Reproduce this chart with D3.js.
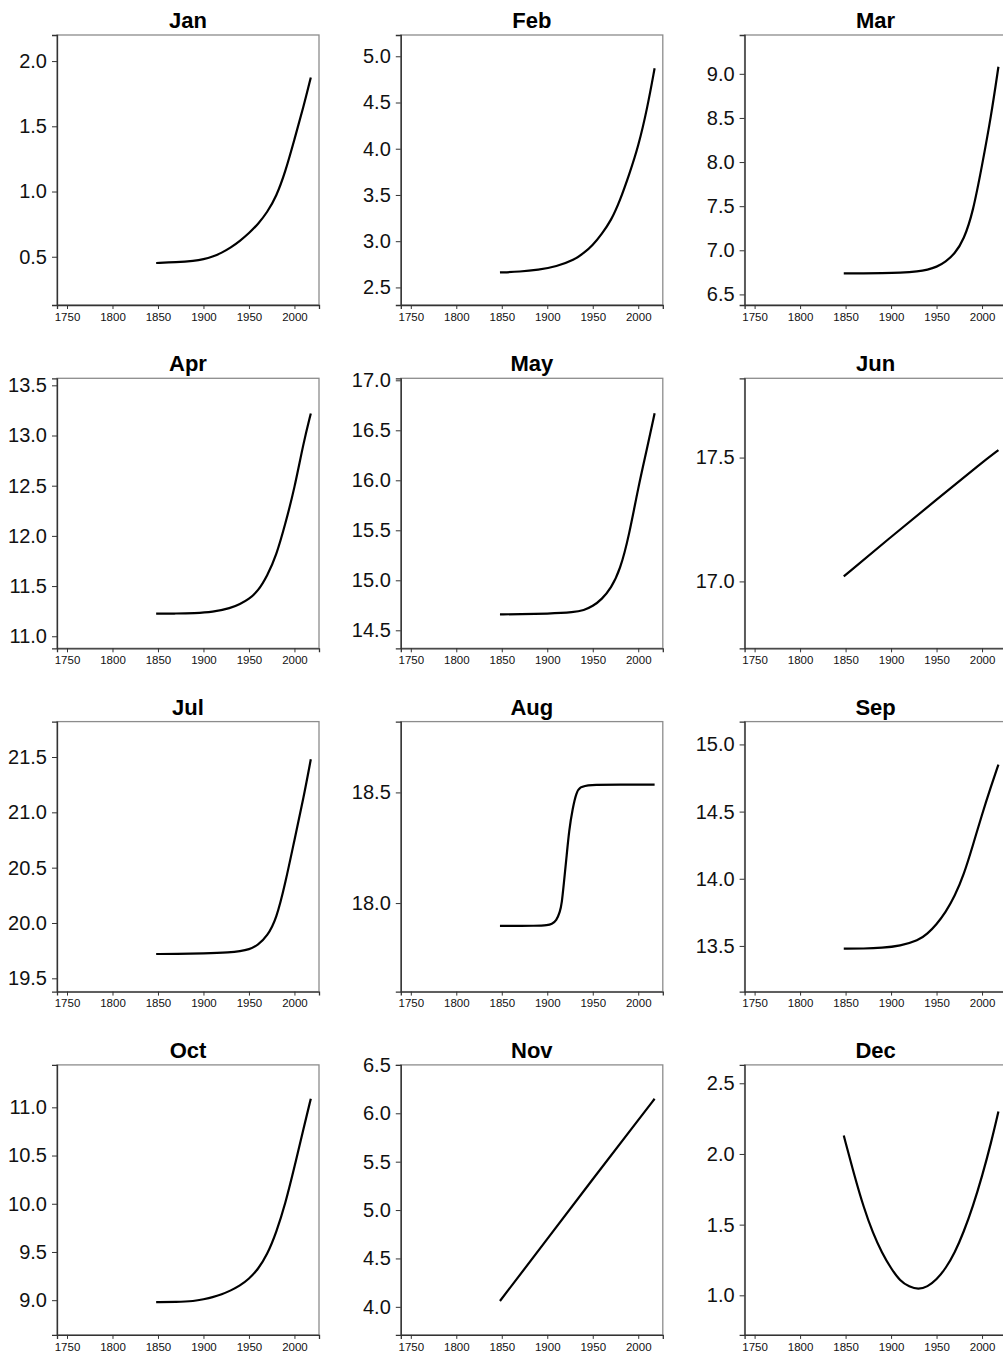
<!DOCTYPE html>
<html>
<head>
<meta charset="utf-8">
<script src="https://cdn.jsdelivr.net/npm/d3@7"></script>
<style>
  body { margin: 0; background: #fff; }
  svg { display: block; font-family: "Liberation Sans", Arial, Helvetica, sans-serif; }
</style>
</head>
<body>
<div id="chart"></div>
<script>
const months = ['Jan', 'Feb', 'Mar', 'Apr', 'May', 'Jun', 'Jul', 'Aug', 'Sep', 'Oct', 'Nov', 'Dec'];
const xDomain = [1739, 2027];
const xTicks = [1750, 1800, 1850, 1900, 1950, 2000];

// [year, value]
const jan = [[1848, 0.452], [1870, 0.457], [1890, 0.468], [1900, 0.48], [1910, 0.50], [1920, 0.53],
  [1930, 0.57], [1940, 0.62], [1950, 0.68], [1960, 0.75], [1970, 0.84], [1980, 0.96], [1990, 1.15],
  [2000, 1.40], [2010, 1.65], [2018, 1.875]];
const feb = [[1848, 2.662], [1870, 2.67], [1890, 2.69], [1910, 2.725], [1930, 2.80], [1940, 2.87],
  [1950, 2.955], [1960, 3.08], [1970, 3.22], [1980, 3.44], [1990, 3.72], [2000, 4.02], [2010, 4.44], [2018, 4.87]];
const mar = [[1848, 6.738], [1870, 6.738], [1890, 6.74], [1910, 6.745], [1930, 6.76], [1940, 6.78],
  [1950, 6.81], [1960, 6.87], [1970, 6.96], [1980, 7.12], [1990, 7.43], [2000, 7.96], [2010, 8.52], [2018, 9.08]];
const apr = [[1848, 11.225], [1870, 11.226], [1890, 11.23], [1910, 11.24], [1930, 11.28], [1940, 11.32],
  [1950, 11.37], [1960, 11.45], [1970, 11.60], [1980, 11.80], [1990, 12.12], [2000, 12.47], [2010, 12.93], [2018, 13.22]];
const may = [[1848, 14.66], [1870, 14.66], [1900, 14.665], [1930, 14.68], [1940, 14.70], [1950, 14.74],
  [1960, 14.81], [1970, 14.92], [1980, 15.10], [1990, 15.45], [2000, 15.93], [2010, 16.33], [2018, 16.67]];
const jun = [[1848, 17.02], [1900, 17.18], [1950, 17.33], [2000, 17.48], [2018, 17.53]];
const jul = [[1848, 19.72], [1870, 19.72], [1900, 19.725], [1930, 19.735], [1940, 19.745], [1950, 19.76],
  [1960, 19.80], [1970, 19.88], [1980, 20.03], [1990, 20.36], [2000, 20.75], [2010, 21.13], [2018, 21.48]];
const aug = [[1848, 17.897], [1890, 17.897], [1900, 17.90], [1905, 17.905], [1910, 17.92], [1914, 17.96],
  [1916, 18.0], [1918, 18.08], [1921, 18.2], [1924, 18.33], [1928, 18.43], [1932, 18.50], [1936, 18.525],
  [1945, 18.535], [1980, 18.535], [2018, 18.535]];
const sep = [[1848, 13.48], [1870, 13.48], [1890, 13.485], [1910, 13.50], [1930, 13.54], [1940, 13.59],
  [1950, 13.66], [1960, 13.75], [1970, 13.87], [1980, 14.03], [1990, 14.25], [2000, 14.48], [2010, 14.69], [2018, 14.85]];
const oct = [[1848, 8.98], [1870, 8.98], [1890, 8.99], [1900, 9.01], [1910, 9.03], [1920, 9.06], [1930, 9.10],
  [1940, 9.15], [1950, 9.22], [1960, 9.32], [1970, 9.47], [1980, 9.70], [1990, 10.00], [2000, 10.38],
  [2010, 10.78], [2018, 11.09]];
const nov = [[1848, 4.06], [1900, 4.70], [1950, 5.32], [2000, 5.93], [2018, 6.15]];
const dec = [[1848, 2.13], [1860, 1.84], [1870, 1.62], [1880, 1.44], [1890, 1.30], [1900, 1.19], [1910, 1.10],
  [1920, 1.06], [1930, 1.04], [1940, 1.06], [1950, 1.11], [1960, 1.19], [1970, 1.30], [1980, 1.45],
  [1990, 1.63], [2000, 1.84], [2010, 2.08], [2018, 2.30]];

const yDomains = [[0.13, 2.20], [2.31, 5.23], [6.38, 9.44], [10.88, 13.57], [14.32, 17.02], [16.73, 17.82],
  [19.38, 21.82], [17.60, 18.82], [13.16, 15.17], [8.64, 11.44], [3.71, 6.50], [0.72, 2.63]];
const yTicks = [
  [0.5, 1.0, 1.5, 2.0], [2.5, 3.0, 3.5, 4.0, 4.5, 5.0], [6.5, 7.0, 7.5, 8.0, 8.5, 9.0],
  [11.0, 11.5, 12.0, 12.5, 13.0, 13.5], [14.5, 15.0, 15.5, 16.0, 16.5, 17.0], [17.0, 17.5],
  [19.5, 20.0, 20.5, 21.0, 21.5], [18.0, 18.5], [13.5, 14.0, 14.5, 15.0],
  [9.0, 9.5, 10.0, 10.5, 11.0], [4.0, 4.5, 5.0, 5.5, 6.0, 6.5], [1.0, 1.5, 2.0, 2.5]];

const series = [jan, feb, mar, apr, may, jun, jul, aug, sep, oct, nov, dec];

const width = 1003;
const height = 1356;
const layout = {left: 57, top: 35, w: 262, h: 270, dx: 343.8, dy: 343.3};

const svg = d3.select('#chart')
  .append('svg')
    .attr('width', width)
    .attr('height', height);

months.forEach((m, i) => {
  const col = i % 3;
  const row = Math.floor(i / 3);
  const g = svg.append('g')
    .attr('transform', `translate(${layout.left + col * layout.dx}, ${layout.top + row * layout.dy})`);

  const x = d3.scaleLinear().domain(xDomain).range([0, layout.w]);
  const y = d3.scaleLinear().domain(yDomains[i]).range([layout.h, 0]);

  // box
  g.append('rect')
    .attr('width', layout.w)
    .attr('height', layout.h)
    .attr('fill', 'none')
    .attr('stroke', '#8c8c8c')
    .attr('stroke-width', 1.3);

  const xAxis = d3.axisBottom(x)
    .tickValues(xTicks)
    .tickFormat(d3.format('d'))
    .tickSize(4)
    .tickPadding(3.5);
  const gx = g.append('g')
    .attr('transform', `translate(0, ${layout.h})`)
    .call(xAxis);
  gx.select('.domain').attr('stroke', '#333').attr('stroke-width', 1.3);
  gx.selectAll('.tick line').attr('stroke', '#333');
  gx.selectAll('.tick text').attr('font-size', 11.5).attr('fill', '#111');

  const yAxis = d3.axisLeft(y)
    .tickValues(yTicks[i])
    .tickFormat(d3.format('.1f'))
    .tickSize(5)
    .tickPadding(5);
  const gy = g.append('g').call(yAxis);
  gy.select('.domain').attr('stroke', '#333').attr('stroke-width', 1.3);
  gy.selectAll('.tick line').attr('stroke', '#333');
  gy.selectAll('.tick text').attr('font-size', 20).attr('fill', '#111');

  const line = d3.line()
    .x(d => x(d[0]))
    .y(d => y(d[1]))
    .curve(d3.curveBasis);
  g.append('path')
    .datum(series[i])
    .attr('fill', 'none')
    .attr('stroke', '#000')
    .attr('stroke-width', 2.2)
    .attr('d', line);

  g.append('text')
    .attr('x', layout.w / 2)
    .attr('y', -7)
    .attr('text-anchor', 'middle')
    .attr('font-size', 22)
    .attr('font-weight', 'bold')
    .text(m);
});
</script>
</body>
</html>
